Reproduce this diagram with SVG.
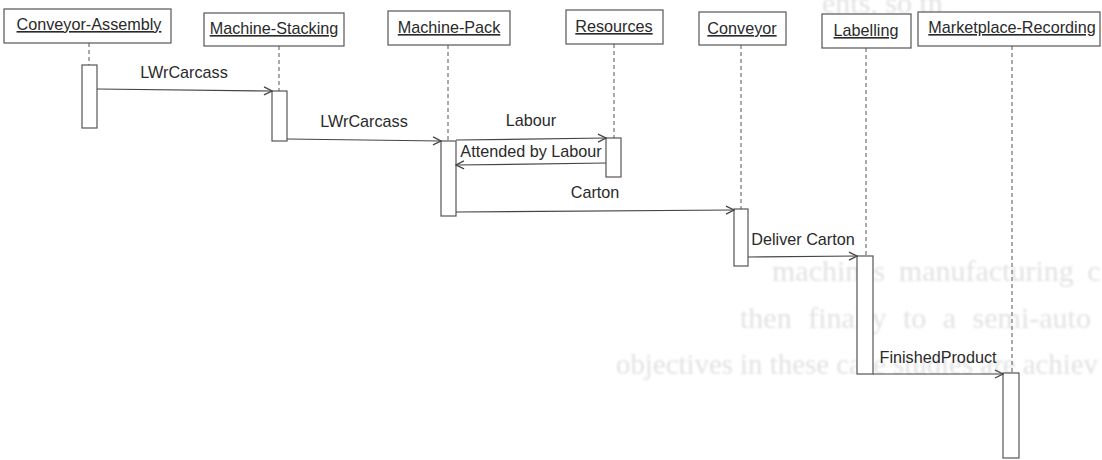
<svg xmlns="http://www.w3.org/2000/svg" width="1102" height="460" viewBox="0 0 1102 460">
  <style>
    .head { fill: #ffffff; stroke: #555555; stroke-width: 1.2; }
    .headtxt { font-family: "Liberation Sans", Arial, sans-serif; font-size: 16.2px; fill: #2a2a2a; text-anchor: middle; text-decoration: underline; }
    .life { stroke: #555555; stroke-width: 1; stroke-dasharray: 4 3; fill: none; }
    .act { fill: #ffffff; stroke: #555555; stroke-width: 1.2; }
    .msg { stroke: #444444; stroke-width: 1.2; fill: none; marker-end: url(#open); }
    .msgtxt { font-family: "Liberation Sans", Arial, sans-serif; font-size: 16.2px; fill: #2a2a2a; text-anchor: middle; }
    .ghost { font-family: "Liberation Serif", "Times New Roman", serif; font-size: 30px; fill: #e2e2e2; }
  </style>
  <defs>
    <marker id="open" viewBox="0 0 10 10" refX="9" refY="5" markerWidth="10" markerHeight="10" markerUnits="userSpaceOnUse" orient="auto">
      <path d="M1,1 L9,5 L1,9" fill="none" stroke="#444444" stroke-width="1.3"/>
    </marker>
    <filter id="soft" x="-5%" y="-30%" width="110%" height="160%">
      <feGaussianBlur stdDeviation="1.1"/>
    </filter>
  </defs>

  <rect width="1102" height="460" fill="#ffffff"/>

  <!-- faint show-through of the printed page behind -->
  <g id="page-behind" class="ghost" filter="url(#soft)">
    <text x="822" y="13">ents, so th</text>
    <text x="772" y="281" word-spacing="6">machines manufacturing c</text>
    <text x="740" y="328" word-spacing="9">then finally to a semi-auto</text>
    <text x="616" y="374" textLength="482" lengthAdjust="spacingAndGlyphs">objectives in these case studies are achiev</text>
  </g>

  <!-- lifelines -->
  <g id="lifelines">
    <line class="life" x1="89" y1="43" x2="89" y2="65"/>
    <line class="life" x1="279" y1="46" x2="279" y2="91"/>
    <line class="life" x1="448" y1="45" x2="448" y2="141"/>
    <line class="life" x1="614" y1="44" x2="614" y2="138"/>
    <line class="life" x1="741" y1="45" x2="741" y2="209"/>
    <line class="life" x1="866" y1="48" x2="866" y2="256"/>
    <line class="life" x1="1012" y1="46" x2="1012" y2="373"/>
  </g>

  <g id="conveyor-assembly">
    <rect class="head" x="4" y="9" width="167" height="34"/>
    <text class="headtxt" x="89" y="30">Conveyor-Assembly</text>
    <rect class="act" x="82" y="65" width="15" height="63"/>
  </g>

  <g id="machine-stacking">
    <rect class="head" x="204" y="13" width="140" height="33"/>
    <text class="headtxt" x="274" y="34">Machine-Stacking</text>
    <rect class="act" x="272" y="91" width="15" height="50"/>
  </g>

  <g id="machine-pack">
    <rect class="head" x="388" y="11" width="122" height="34"/>
    <text class="headtxt" x="449" y="33">Machine-Pack</text>
    <rect class="act" x="441" y="141" width="15" height="75"/>
  </g>

  <g id="resources">
    <rect class="head" x="566" y="10" width="97" height="34"/>
    <text class="headtxt" x="614" y="32">Resources</text>
    <rect class="act" x="606" y="138" width="15" height="39"/>
  </g>

  <g id="conveyor">
    <rect class="head" x="699" y="12" width="87" height="33"/>
    <text class="headtxt" x="742" y="34">Conveyor</text>
    <rect class="act" x="734" y="209" width="14" height="57"/>
  </g>

  <g id="labelling">
    <rect class="head" x="822" y="14" width="89" height="34"/>
    <text class="headtxt" x="866" y="36">Labelling</text>
    <rect class="act" x="857" y="256" width="16" height="118"/>
  </g>

  <g id="marketplace-recording">
    <rect class="head" x="918" y="12" width="182" height="34"/>
    <text class="headtxt" x="1012" y="33">Marketplace-Recording</text>
    <rect class="act" x="1003" y="373" width="16" height="85"/>
  </g>

  <!-- messages -->
  <g id="connectors">
    <line class="msg" x1="97" y1="89" x2="272" y2="91"/>
    <line class="msg" x1="287" y1="139" x2="441" y2="141"/>
    <line class="msg" x1="456" y1="140" x2="606" y2="138"/>
    <line class="msg" x1="606" y1="163" x2="456" y2="165"/>
    <line class="msg" x1="456" y1="212" x2="734" y2="210"/>
    <line class="msg" x1="748" y1="257" x2="857" y2="256"/>
    <line class="msg" x1="873" y1="374" x2="1003" y2="374"/>
  </g>

  <g id="message-labels">
    <text class="msgtxt" x="184" y="78">LWrCarcass</text>
    <text class="msgtxt" x="364" y="127">LWrCarcass</text>
    <text class="msgtxt" x="531" y="126">Labour</text>
    <text class="msgtxt" x="531" y="157">Attended by Labour</text>
    <text class="msgtxt" x="595" y="198">Carton</text>
    <text class="msgtxt" x="803" y="245">Deliver Carton</text>
    <text class="msgtxt" x="938" y="363">FinishedProduct</text>
  </g>
</svg>
